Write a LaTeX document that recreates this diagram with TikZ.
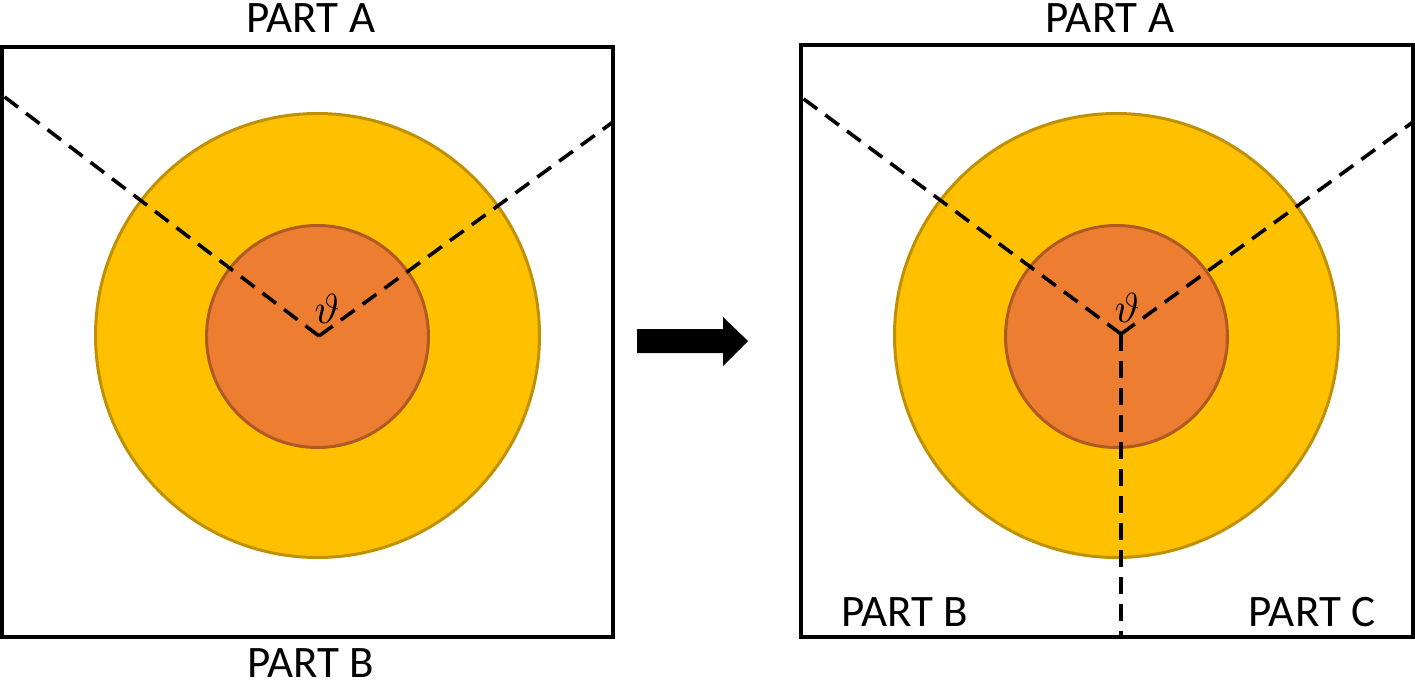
\documentclass[tikz,border=0pt]{standalone}
\usepackage{fontspec}
\setmainfont{Carlito}
\definecolor{gold}{HTML}{FFC000}
\definecolor{goldline}{HTML}{BF9000}
\definecolor{orng}{HTML}{ED7D31}
\definecolor{orngline}{HTML}{AE5A21}
\begin{document}
\begin{tikzpicture}[x=1pt,y=-1pt,
  frame/.style={draw=black,line width=4pt},
  outerdisc/.style={circle,draw=goldline,fill=gold,line width=3pt,minimum size=444pt,inner sep=0pt},
  innerdisc/.style={circle,draw=orngline,fill=orng,line width=3pt,minimum size=222pt,inner sep=0pt},
  cut/.style={draw=black,line width=3.6pt,dash pattern=on 17pt off 10pt},
  lbl/.style={font=\fontsize{45}{45}\selectfont,inner sep=0pt,anchor=base,text depth=0pt},
  ang/.style={inner sep=0pt,scale=4.2},
  bigarrow/.style={fill=black}
]
\useasboundingbox (0,0) rectangle (1415,683);
% left panel
\draw[frame] (2,47) rectangle (613,637);
\node[outerdisc] (LO) at (317.5,335.5) {};
\node[innerdisc] (LI) at (317.5,336.5) {};
\coordinate (LV) at (319,336);
\coordinate (LL) at (2,95);
\coordinate (LR) at (613,122);
\draw[cut] (LV) -- (LL);
\draw[cut] (LV) -- (LR);
\node[ang] (Lt) at (327,309) {$\vartheta$};
\node[lbl] (LA) at (311,32) {PART A};
\node[lbl] (LB) at (311,677) {PART B};
% arrow
\fill[bigarrow] (637,329) -- (723,329) -- (723,317) -- (748,341) -- (723,366) -- (723,353) -- (637,353) -- cycle;
% right panel
\draw[frame] (801,45) rectangle (1413,637);
\node[outerdisc] (RO) at (1116.5,335.5) {};
\node[innerdisc] (RI) at (1116.5,336.5) {};
\coordinate (RV) at (1121,334);
\coordinate (RL) at (801,97);
\coordinate (RR) at (1413,122);
\coordinate (RD) at (1121,637);
\draw[cut] (RV) -- (RL);
\draw[cut] (RV) -- (RR);
\draw[cut] (RV) -- (RD);
\node[ang] (Rt) at (1127,308) {$\vartheta$};
\node[lbl] (RA) at (1110,32) {PART A};
\node[lbl] (RB) at (905,626) {PART B};
\node[lbl] (RC) at (1312,626) {PART C};
\end{tikzpicture}
\end{document}
